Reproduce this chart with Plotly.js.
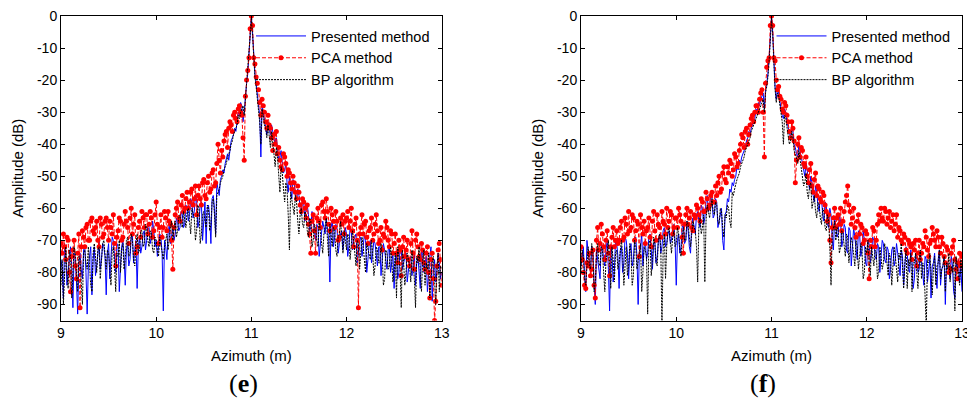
<!DOCTYPE html>
<html>
<head>
<meta charset="utf-8">
<script src="https://cdn.plot.ly/plotly-3.0.1.min.js"></script>
<style>html,body{margin:0;padding:0;background:#fff;}#chart{width:967px;height:401px;}</style>
</head>
<body>
<div id="chart"></div>
<script>
// Azimuth sample positions (m)
const azimuth = [
9,9.0125,9.025,9.0375,9.05,9.0625,9.075,9.0875,9.1,9.1125,9.125,9.1375,9.15,9.1625,9.175,9.1875,9.2,9.2125,9.225,9.2375,9.25,9.2625,9.275,9.2875,9.3,9.3125,9.325,9.3375,9.35,9.3625,9.375,9.3875,9.4,9.4125,9.425,9.4375,9.45,9.4625,9.475,9.4875,
9.5,9.5125,9.525,9.5375,9.55,9.5625,9.575,9.5875,9.6,9.6125,9.625,9.6375,9.65,9.6625,9.675,9.6875,9.7,9.7125,9.725,9.7375,9.75,9.7625,9.775,9.7875,9.8,9.8125,9.825,9.8375,9.85,9.8625,9.875,9.8875,9.9,9.9125,9.925,9.9375,9.95,9.9625,9.975,9.9875,
10,10.0125,10.025,10.0375,10.05,10.0625,10.075,10.0875,10.1,10.1125,10.125,10.1375,10.15,10.1625,10.175,10.1875,10.2,10.2125,10.225,10.2375,10.25,10.2625,10.275,10.2875,10.3,10.3125,10.325,10.3375,10.35,10.3625,10.375,10.3875,10.4,10.4125,10.425,10.4375,10.45,10.4625,10.475,10.4875,
10.5,10.5125,10.525,10.5375,10.55,10.5625,10.575,10.5875,10.6,10.6125,10.625,10.6375,10.65,10.6625,10.675,10.6875,10.7,10.7125,10.725,10.7375,10.75,10.7625,10.775,10.7875,10.8,10.8125,10.825,10.8375,10.85,10.8625,10.875,10.8875,10.9,10.9125,10.925,10.9375,10.95,10.9625,10.975,10.9875,
11,11.0125,11.025,11.0375,11.05,11.0625,11.075,11.0875,11.1,11.1125,11.125,11.1375,11.15,11.1625,11.175,11.1875,11.2,11.2125,11.225,11.2375,11.25,11.2625,11.275,11.2875,11.3,11.3125,11.325,11.3375,11.35,11.3625,11.375,11.3875,11.4,11.4125,11.425,11.4375,11.45,11.4625,11.475,11.4875,
11.5,11.5125,11.525,11.5375,11.55,11.5625,11.575,11.5875,11.6,11.6125,11.625,11.6375,11.65,11.6625,11.675,11.6875,11.7,11.7125,11.725,11.7375,11.75,11.7625,11.775,11.7875,11.8,11.8125,11.825,11.8375,11.85,11.8625,11.875,11.8875,11.9,11.9125,11.925,11.9375,11.95,11.9625,11.975,11.9875,
12,12.0125,12.025,12.0375,12.05,12.0625,12.075,12.0875,12.1,12.1125,12.125,12.1375,12.15,12.1625,12.175,12.1875,12.2,12.2125,12.225,12.2375,12.25,12.2625,12.275,12.2875,12.3,12.3125,12.325,12.3375,12.35,12.3625,12.375,12.3875,12.4,12.4125,12.425,12.4375,12.45,12.4625,12.475,12.4875,
12.5,12.5125,12.525,12.5375,12.55,12.5625,12.575,12.5875,12.6,12.6125,12.625,12.6375,12.65,12.6625,12.675,12.6875,12.7,12.7125,12.725,12.7375,12.75,12.7625,12.775,12.7875,12.8,12.8125,12.825,12.8375,12.85,12.8625,12.875,12.8875,12.9,12.9125,12.925,12.9375,12.95,12.9625,12.975,12.9875,
13];

// Panel (e) amplitudes (dB)
const presentedE = [
-76,-79,-88,-71,-74,-84,-80,-75,-72,-78,-91,-74,-76,-83,-93,-77,-74,-79,-82,-73,-72,-80,-93,-78,-75,-72,-87,-76,-72,-81,-78,-73,-70,-79,-76,-71,-72,-75,-87,-74,
-71,-82,-77,-69,-70,-74,-80,-71,-72,-86,-78,-72,-70,-75,-84,-73,-71,-78,-76,-69,-68,-77,-73,-70,-85,-72,-69,-74,-72,-68,-67,-73,-70,-65,-66,-71,-69,-64,-67,-72,
-70,-75,-72,-68,-69,-74,-92,-70,-72,-76,-68,-65,-71,-69,-66,-70,-68,-63,-64,-67,-66,-61,-62,-66,-65,-59,-60,-64,-62,-57,-58,-63,-61,-56,-57,-66,-64,-59,-58,-70,
-62,-58,-71,-60,-59,-63,-71,-57,-56,-60,-68,-52,-54,-56,-51,-50,-48,-49,-46,-44,-43,-45,-41,-39,-38,-37,-35,-36,-33,-30,-31,-27,-28,-33,-30,-24,-21,-18,-12,-5,
0,-5,-13,-18,-21,-25,-27,-31,-44,-28,-30,-32,-34,-37,-33,-35,-37,-34,-36,-39,-40,-38,-41,-45,-44,-42,-46,-49,-48,-46,-52,-55,-50,-53,-57,-51,-52,-56,-58,-54,
-56,-60,-62,-57,-58,-64,-60,-59,-62,-67,-66,-61,-64,-68,-70,-65,-66,-75,-71,-67,-64,-66,-68,-63,-66,-70,-83,-66,-64,-72,-69,-65,-66,-74,-71,-68,-67,-73,-70,-66,
-68,-75,-72,-66,-67,-73,-70,-69,-68,-77,-74,-70,-69,-75,-72,-68,-70,-80,-76,-71,-70,-77,-74,-70,-71,-76,-78,-72,-72,-81,-75,-71,-73,-77,-79,-73,-72,-80,-76,-74,
-85,-76,-74,-82,-80,-72,-73,-79,-77,-75,-74,-83,-80,-76,-75,-81,-78,-74,-84,-77,-75,-79,-85,-73,-74,-80,-78,-75,-86,-78,-75,-72,-89,-80,-76,-83,-80,-74,-77,-82,
-80];
const pcaE = [
-71,-74,-68,-72,-76,-69,-70,-80,-86,-75,-73,-70,-78,-82,-74,-68,-91,-72,-67,-69,-72,-66,-65,-70,-70,-64,-63,-67,-68,-66,-64,-70,-72,-63,-65,-69,-68,-64,-63,-66,
-70,-64,-66,-68,-62,-71,-78,-69,-67,-63,-64,-70,-69,-65,-61,-64,-66,-71,-63,-60,-68,-65,-62,-74,-72,-66,-64,-69,-61,-63,-66,-62,-62,-68,-65,-61,-63,-69,-67,-62,
-58,-65,-71,-66,-62,-69,-66,-61,-63,-67,-61,-64,-65,-70,-79,-66,-62,-60,-58,-63,-64,-59,-56,-61,-60,-57,-55,-60,-58,-55,-54,-59,-57,-53,-62,-56,-53,-57,-59,-52,
-51,-56,-57,-52,-50,-55,-54,-49,-48,-53,-52,-46,-40,-45,-49,-42,-44,-39,-37,-36,-41,-35,-33,-34,-36,-31,-30,-32,-33,-29,-28,-30,-31,-38,-45,-25,-20,-17,-13,-4,
0,-3,-13,-15,-19,-21,-23,-27,-31,-26,-28,-30,-33,-35,-31,-34,-35,-38,-42,-37,-40,-36,-43,-41,-45,-47,-48,-43,-44,-46,-50,-48,-49,-52,-54,-50,-52,-55,-57,-53,
-55,-59,-61,-57,-58,-60,-63,-59,-65,-68,-74,-64,-62,-67,-74,-63,-60,-64,-66,-59,-58,-61,-63,-57,-61,-65,-67,-60,-62,-64,-66,-61,-64,-70,-69,-63,-65,-62,-68,-64,
-63,-61,-66,-64,-60,-67,-72,-65,-63,-70,-91,-68,-66,-62,-68,-65,-64,-69,-71,-67,-66,-63,-70,-68,-65,-62,-67,-71,-70,-66,-73,-68,-69,-64,-66,-70,-72,-67,-68,-74,
-71,-68,-74,-77,-70,-73,-81,-72,-69,-75,-73,-70,-76,-78,-71,-67,-74,-79,-70,-68,-72,-75,-76,-71,-73,-77,-79,-74,-72,-80,-88,-76,-74,-82,-95,-89,-78,-73,-71,-76,
-84];
const bpE = [
-84,-76,-90,-78,-72,-80,-85,-73,-75,-88,-80,-72,-74,-81,-86,-75,-76,-83,-90,-74,-73,-77,-79,-72,-78,-84,-86,-74,-71,-77,-80,-73,-72,-82,-77,-71,-70,-76,-79,-73,
-74,-79,-84,-73,-72,-78,-86,-74,-75,-70,-80,-73,-71,-79,-76,-70,-69,-75,-74,-68,-70,-76,-78,-71,-68,-74,-73,-67,-67,-72,-71,-65,-66,-70,-72,-67,-68,-73,-74,-69,
-70,-73,-75,-69,-71,-74,-76,-72,-70,-68,-73,-69,-66,-64,-70,-66,-64,-69,-67,-63,-62,-65,-66,-61,-63,-66,-61,-60,-64,-68,-60,-62,-63,-70,-67,-59,-60,-71,-68,-62,
-61,-64,-66,-59,-60,-67,-65,-58,-57,-62,-69,-56,-55,-54,-52,-51,-50,-48,-47,-46,-44,-43,-42,-40,-39,-37,-36,-35,-34,-31,-32,-30,-29,-28,-31,-26,-22,-19,-14,-6,
-1,-6,-14,-19,-22,-26,-28,-33,-40,-29,-31,-34,-35,-38,-34,-37,-41,-36,-39,-43,-47,-41,-44,-50,-55,-47,-49,-54,-58,-52,-54,-62,-73,-55,-57,-60,-62,-56,-58,-64,
-68,-62,-60,-65,-66,-61,-62,-67,-69,-63,-64,-72,-70,-65,-66,-70,-72,-64,-67,-71,-74,-68,-66,-63,-70,-75,-65,-68,-72,-66,-67,-73,-75,-69,-68,-64,-71,-74,-67,-70,
-73,-68,-69,-76,-72,-67,-70,-74,-78,-70,-71,-79,-74,-69,-72,-77,-80,-71,-73,-75,-76,-70,-74,-81,-78,-72,-73,-77,-77,-71,-75,-84,-82,-73,-74,-79,-78,-72,-76,-83,
-80,-74,-88,-72,-75,-79,-91,-73,-77,-84,-80,-74,-76,-78,-83,-73,-78,-82,-91,-75,-77,-72,-80,-86,-76,-73,-84,-77,-79,-74,-88,-80,-77,-75,-81,-90,-78,-74,-86,-78,
-79];

// Panel (f) amplitudes (dB)
const presentedF = [
-78,-74,-72,-81,-86,-70,-74,-77,-80,-72,-73,-84,-90,-73,-76,-79,-82,-71,-72,-76,-78,-73,-70,-79,-92,-72,-74,-83,-80,-70,-71,-75,-85,-73,-72,-80,-77,-69,-70,-74,
-82,-73,-71,-78,-76,-70,-69,-75,-90,-74,-72,-68,-78,-72,-70,-76,-74,-69,-68,-73,-79,-71,-70,-77,-75,-70,-68,-74,-72,-67,-66,-72,-71,-68,-67,-71,-70,-66,-65,-70,
-84,-70,-68,-74,-72,-66,-65,-71,-70,-64,-67,-72,-74,-65,-63,-66,-68,-62,-61,-64,-66,-59,-60,-65,-63,-58,-56,-61,-60,-55,-57,-63,-62,-57,-58,-66,-64,-61,-60,-70,
-73,-62,-61,-57,-58,-54,-55,-52,-53,-51,-50,-47,-48,-45,-46,-44,-43,-42,-41,-39,-38,-36,-37,-35,-34,-33,-32,-29,-30,-27,-28,-26,-25,-24,-29,-23,-21,-18,-13,-5,
0,-5,-14,-22,-26,-23,-24,-27,-29,-31,-32,-29,-30,-33,-35,-37,-38,-35,-36,-40,-41,-43,-44,-40,-42,-45,-47,-49,-50,-46,-48,-52,-54,-50,-52,-56,-58,-53,-55,-59,
-61,-56,-57,-62,-64,-58,-59,-65,-66,-60,-62,-70,-73,-63,-65,-69,-68,-62,-64,-72,-70,-65,-66,-73,-74,-66,-67,-78,-72,-66,-69,-74,-76,-67,-68,-75,-73,-67,-70,-77,
-78,-70,-71,-77,-74,-69,-70,-75,-76,-71,-72,-80,-75,-70,-71,-76,-77,-72,-73,-82,-79,-73,-72,-78,-76,-71,-74,-79,-81,-73,-75,-84,-78,-72,-74,-79,-80,-73,-76,-85,
-82,-74,-75,-80,-79,-73,-77,-81,-84,-75,-76,-83,-80,-76,-88,-78,-77,-74,-81,-85,-76,-73,-84,-79,-78,-75,-90,-77,-77,-80,-82,-75,-78,-86,-88,-77,-79,-76,-83,-78,
-86];
const pcaF = [
-72,-76,-80,-84,-85,-77,-78,-74,-81,-79,-73,-84,-88,-70,-66,-73,-71,-65,-68,-72,-76,-70,-67,-74,-81,-72,-69,-66,-72,-70,-67,-71,-70,-66,-64,-70,-69,-63,-65,-68,
-61,-67,-66,-62,-63,-70,-67,-64,-65,-75,-62,-66,-68,-64,-71,-67,-66,-63,-69,-72,-64,-61,-67,-70,-62,-65,-66,-69,-61,-64,-65,-68,-60,-66,-64,-61,-62,-68,-66,-63,
-63,-66,-60,-62,-64,-69,-74,-65,-62,-60,-65,-63,-61,-66,-67,-62,-63,-59,-60,-62,-64,-57,-58,-61,-61,-55,-57,-60,-59,-56,-55,-58,-58,-53,-56,-52,-50,-55,-54,-49,
-47,-51,-52,-47,-49,-45,-46,-50,-48,-43,-44,-47,-46,-42,-40,-37,-38,-41,-36,-35,-40,-37,-34,-32,-31,-33,-30,-28,-28,-30,-26,-24,-23,-30,-44,-21,-16,-14,-13,-3,
0,-3,-13,-14,-20,-23,-22,-25,-26,-29,-30,-27,-28,-31,-33,-36,-38,-33,-35,-39,-52,-45,-40,-38,-44,-41,-42,-46,-47,-44,-50,-52,-48,-46,-53,-55,-51,-49,-56,-53,
-54,-57,-58,-55,-56,-59,-61,-64,-62,-70,-77,-66,-63,-60,-66,-63,-62,-65,-60,-67,-64,-61,-58,-56,-53,-59,-61,-65,-63,-60,-66,-69,-64,-62,-68,-65,-66,-71,-70,-67,
-68,-74,-82,-70,-72,-66,-67,-72,-70,-65,-62,-64,-60,-63,-64,-60,-61,-65,-63,-61,-66,-64,-62,-67,-65,-62,-69,-66,-67,-70,-71,-68,-69,-73,-74,-70,-71,-72,-76,-71,
-73,-70,-78,-74,-70,-76,-74,-71,-72,-67,-69,-73,-75,-71,-70,-66,-68,-70,-72,-67,-69,-72,-74,-69,-71,-75,-77,-72,-73,-80,-79,-74,-72,-70,-76,-79,-82,-77,-74,-78,
-75];
const bpF = [
-80,-73,-75,-82,-84,-76,-72,-78,-79,-71,-74,-86,-83,-75,-71,-77,-78,-72,-73,-80,-86,-76,-74,-70,-80,-85,-72,-76,-83,-74,-73,-79,-77,-72,-70,-75,-84,-78,-72,-81,
-78,-71,-74,-84,-81,-70,-72,-79,-77,-74,-71,-86,-80,-72,-73,-75,-93,-71,-70,-81,-76,-69,-71,-77,-78,-70,-68,-72,-97,-73,-68,-82,-72,-67,-66,-70,-74,-69,-67,-72,
-71,-66,-68,-73,-75,-69,-66,-70,-70,-64,-65,-69,-72,-68,-64,-66,-67,-72,-83,-65,-63,-68,-66,-62,-83,-64,-59,-61,-63,-60,-57,-61,-62,-58,-59,-64,-65,-60,-61,-66,
-69,-62,-63,-59,-60,-64,-66,-55,-56,-54,-52,-51,-50,-49,-47,-46,-45,-44,-42,-41,-40,-39,-38,-36,-35,-34,-33,-32,-31,-30,-29,-28,-27,-26,-30,-24,-22,-19,-14,-6,
-1,-6,-15,-23,-27,-24,-25,-28,-30,-33,-40,-31,-32,-35,-37,-40,-39,-36,-38,-42,-43,-45,-46,-42,-45,-48,-50,-53,-52,-49,-55,-57,-53,-52,-60,-58,-56,-61,-63,-58,
-59,-63,-65,-60,-61,-66,-67,-62,-64,-72,-84,-68,-66,-64,-70,-66,-67,-74,-72,-67,-68,-71,-75,-68,-69,-77,-73,-69,-71,-76,-78,-70,-72,-79,-75,-71,-73,-82,-80,-72,
-74,-70,-77,-81,-72,-76,-78,-73,-74,-82,-80,-72,-75,-79,-77,-71,-73,-78,-81,-74,-76,-84,-78,-72,-75,-80,-83,-74,-76,-71,-79,-85,-77,-73,-85,-76,-78,-74,-86,-77,
-77,-74,-80,-85,-76,-73,-82,-77,-78,-88,-97,-76,-77,-74,-81,-87,-79,-75,-84,-78,-77,-73,-82,-79,-78,-75,-86,-77,-79,-74,-83,-78,-80,-76,-92,-75,-78,-81,-84,-76,
-80];

const seriesNames = ['Presented method', 'PCA method', 'BP algorithm'];
const panelLabels = ['(<b>e</b>)', '(<b>f</b>)'];
const xTicks = [9, 10, 11, 12, 13];
const yTicks = [0, -10, -20, -30, -40, -50, -60, -70, -80, -90];

function makeTraces(pres, pca, bp, xa, ya, leg) {
  return [
    {x: azimuth, y: pres, xaxis: xa, yaxis: ya, legend: leg, name: seriesNames[0], type: 'scatter', mode: 'lines',
     line: {color: '#0000ff', width: 1}},
    {x: azimuth, y: pca, xaxis: xa, yaxis: ya, legend: leg, name: seriesNames[1], type: 'scatter', mode: 'lines+markers',
     line: {color: '#ff0000', width: 1, dash: '4px,2px'}, marker: {color: '#ff0000', size: 5, symbol: 'circle'}},
    {x: azimuth, y: bp, xaxis: xa, yaxis: ya, legend: leg, name: seriesNames[2], type: 'scatter', mode: 'lines',
     line: {color: '#000000', width: 1, dash: '2px,1px'}}
  ];
}

const data = [].concat(
  makeTraces(presentedE, pcaE, bpE, 'x', 'y', 'legend'),
  makeTraces(presentedF, pcaF, bpF, 'x2', 'y2', 'legend2')
);

const W = 967, H = 401;
const tickFont = {family: 'Liberation Sans, Arial, sans-serif', size: 14, color: '#000'};
const titleFont = {family: 'Liberation Sans, Arial, sans-serif', size: 15, color: '#000'};
const legendFont = {family: 'Liberation Sans, Arial, sans-serif', size: 14.5, color: '#000'};
function xAxis(d0, d1, anchor) {
  return {domain: [d0 / W, d1 / W], anchor: anchor, range: [9, 13], tickvals: xTicks, ticktext: xTicks.map(String),
    ticks: 'inside', ticklen: 4, tickcolor: '#000', showline: true, linecolor: '#000', linewidth: 1, mirror: 'ticks',
    showgrid: false, zeroline: false, tickfont: tickFont, ticklabeloverflow: 'allow',
    title: {text: 'Azimuth (m)', font: titleFont, standoff: 10}};
}
function yAxis(anchor) {
  return {domain: [1 - 320.5 / H, 1 - 16 / H], anchor: anchor, range: [-95, 0], tickvals: yTicks, ticktext: yTicks.map(String),
    ticks: 'inside', ticklen: 4, tickcolor: '#000', showline: true, linecolor: '#000', linewidth: 1, mirror: 'ticks',
    showgrid: false, zeroline: false, tickfont: tickFont, ticklabeloverflow: 'allow',
    title: {text: 'Amplitude (dB)', font: titleFont, standoff: 9}};
}
function legendAt(xpx) {
  return {x: xpx / W, y: 1 - 20 / H, xanchor: 'left', yanchor: 'top', bgcolor: 'rgba(255,255,255,0)', borderwidth: 0,
    font: legendFont, itemwidth: 50, tracegroupgap: 0};
}

const layout = {
  width: W, height: H,
  margin: {l: 0, r: 0, t: 0, b: 0},
  paper_bgcolor: '#fff', plot_bgcolor: '#fff',
  showlegend: true,
  xaxis: xAxis(61, 441.7, 'y'),
  yaxis: yAxis('x'),
  xaxis2: xAxis(581, 962, 'y2'),
  yaxis2: yAxis('x2'),
  legend: legendAt(251),
  legend2: legendAt(771.5),
  annotations: [
    {text: panelLabels[0], xref: 'paper', yref: 'paper', x: 243 / W, y: 1 - 383 / H, showarrow: false,
     xanchor: 'center', yanchor: 'middle', font: {family: 'Liberation Serif, serif', size: 26, color: '#000'}},
    {text: panelLabels[1], xref: 'paper', yref: 'paper', x: 763 / W, y: 1 - 383 / H, showarrow: false,
     xanchor: 'center', yanchor: 'middle', font: {family: 'Liberation Serif, serif', size: 26, color: '#000'}}
  ]
};

Plotly.newPlot('chart', data, layout, {displayModeBar: false, staticPlot: true});
</script>
</body>
</html>
